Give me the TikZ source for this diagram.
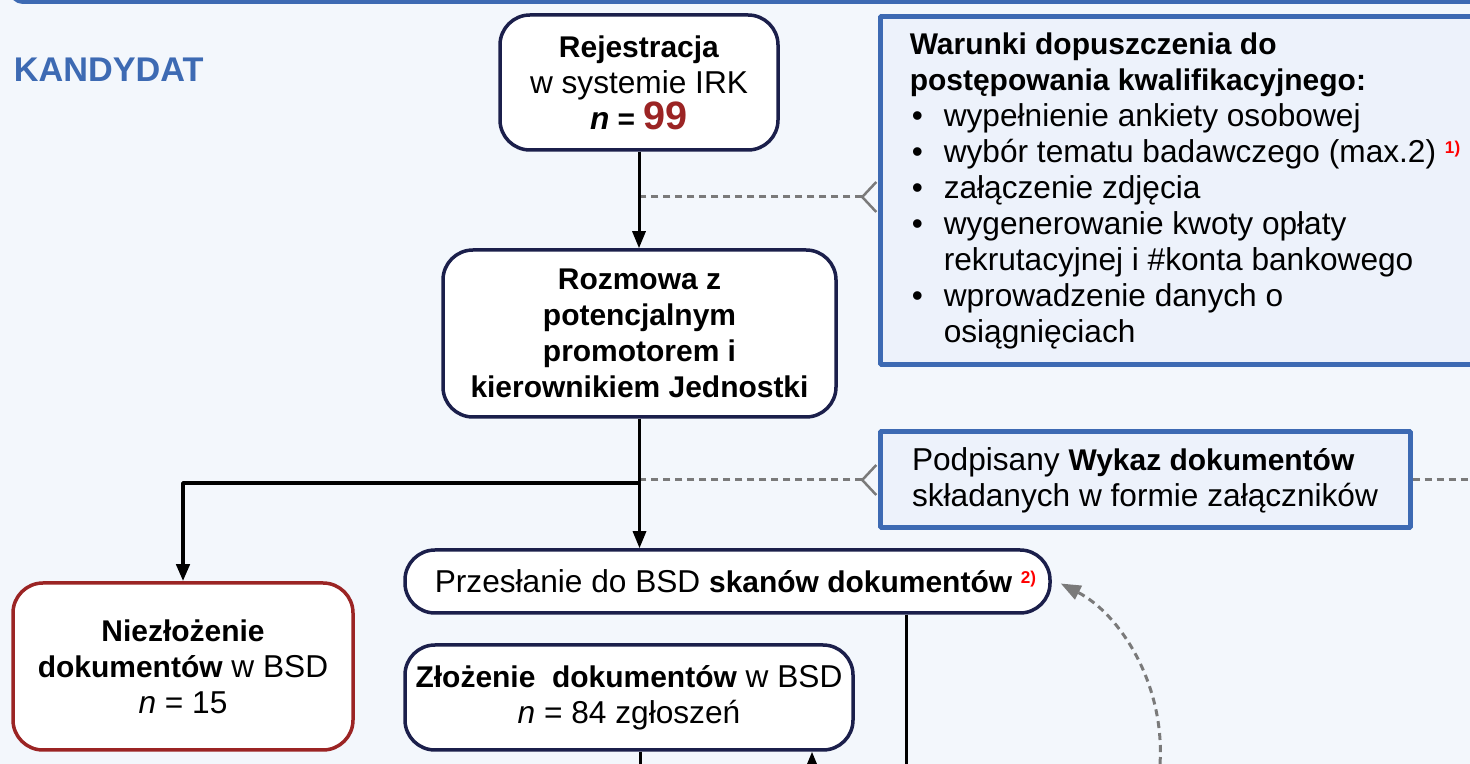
\documentclass[tikz,border=0pt]{standalone}
\usepackage{fontspec}
\setmainfont{Liberation Sans}[Scale=1.13,BoldFeatures={Scale=1.07}]
\usetikzlibrary{arrows.meta}

\begin{document}
\begin{tikzpicture}[>={Triangle[length=17bp,width=13bp]},line join=bevel,
  flowbox/.style={draw=navycol,line width=3.5bp,fill=white,rounded corners=30bp,align=center,inner sep=0bp,
    font=\fontsize{28bp}{36bp}\selectfont},
  infobox/.style={draw=infoblue,line width=5bp,fill=infofill,align=left,inner sep=0bp,
    font=\fontsize{28bp}{36bp}\selectfont},
  flow/.style={draw=black,line width=3bp},
  hint/.style={draw=hintgray,line width=3bp,dash pattern=on 7bp off 5bp},
  chev/.style={{Straight Barb[reversed,length=14bp,width=30bp,line width=2.5bp]}-},
  ]
  \definecolor{bgcol}{HTML}{F3F7FC}
  \definecolor{navycol}{HTML}{1B1F4B}
  \definecolor{infoblue}{HTML}{3D6AB3}
  \definecolor{infofill}{HTML}{EDF2FB}
  \definecolor{hintgray}{HTML}{7A7A7A}
  \definecolor{numred}{HTML}{9B2424}
  \newcommand{\bul}{\makebox[34bp][l]{\hspace{2bp}•}}
  \newcommand{\note}[1]{\raisebox{9bp}{\fontsize{16bp}{16bp}\selectfont\bfseries\color{red}#1}}
%%
  \useasboundingbox (0bp,0bp) rectangle (1470bp,764bp);
  \fill [bgcol] (0bp,0bp) rectangle (1470bp,764bp);
  \draw [infoblue,line width=4bp,rounded corners=12bp] (11bp,800bp) -- (11bp,762bp) -- (1490bp,762bp);
  % Node: kandydat
  \node (kandydat) [anchor=west,text=infoblue,font=\fontsize{32bp}{32bp}\selectfont\bfseries] at (10bp,694bp) {KANDYDAT};
  % Node: rejestracja
  \node (rejestracja) [flowbox,minimum width=278bp,minimum height=135bp] at (639bp,681.5bp)
    {\textbf{Rejestracja}\\w systemie IRK\\\textbf{\textit{n} =} {\fontsize{37bp}{36bp}\selectfont\bfseries\color{numred}99}};
  % Node: rozmowa
  \node (rozmowa) [flowbox,font=\fontsize{28bp}{36bp}\selectfont\bfseries,minimum width=393bp,minimum height=167bp] at (639.5bp,430.5bp)
    {Rozmowa z\\potencjalnym\\promotorem i\\kierownikiem Jednostki};
  % Node: warunki
  \node (warunki) [infobox,minimum width=610bp,minimum height=348bp] at (1185bp,573bp)
    {\textbf{Warunki dopuszczenia do}\\
     \textbf{postępowania kwalifikacyjnego:}\\
     \bul wypełnienie ankiety osobowej\\
     \bul wybór tematu badawczego (max.2) \note{1)}\\
     \bul załączenie zdjęcia\\
     \bul wygenerowanie kwoty opłaty\\
     \hspace*{34bp}rekrutacyjnej i \#konta bankowego\\
     \bul wprowadzenie danych o\\
     \hspace*{34bp}osiągnięciach};
  % Node: podpisany
  \node (podpisany) [infobox,minimum width=530bp,minimum height=96bp] at (1145bp,284bp)
    {Podpisany \textbf{Wykaz dokumentów}\\składanych w formie załączników};
  % Node: przeslanie
  \node (przeslanie) [flowbox,minimum width=645bp,minimum height=63bp] at (727.5bp,182.5bp)
    {\hspace*{16bp}Przesłanie do BSD \textbf{skanów dokumentów} \note{2)}};
  % Node: niezlozenie
  \node (niezlozenie) [flowbox,draw=numred,minimum width=340bp,minimum height=167bp] at (183bp,97.5bp)
    {\textbf{Niezłożenie}\\\textbf{dokumentów} w BSD\\\textit{n} = 15};
  % Node: zlozenie
  \node (zlozenie) [flowbox,minimum width=448bp,minimum height=105bp] at (629bp,66.5bp)
    {\textbf{Złożenie\ \ dokumentów} w BSD\\\textit{n} = 84 zgłoszeń};
%%
  \coordinate (tapA) at (640bp,567bp);
  \coordinate (tapB) at (640bp,284bp);
  \coordinate (split) at (640bp,281bp);
  \coordinate (edgeR) at (1470bp,284bp);
  \coordinate (outA) at (906bp,0bp);
  \coordinate (outB) at (640bp,0bp);
  \coordinate (inC) at (812bp,0bp);
  \coordinate (inD) at (1160bp,0bp);
  % Edge: warunki -> tapA
  \draw [hint,chev] (warunki.west |- tapA) -- (tapA);
  % Edge: podpisany -> tapB
  \draw [hint,chev] (podpisany.west) -- (tapB);
  % Edge: podpisany -> edgeR
  \draw [hint] (podpisany.east) -- (edgeR);
  % Edge: rejestracja -> rozmowa
  \draw [flow,->] (rejestracja.south) -- (rejestracja.south |- rozmowa.north);
  % Edge: rozmowa -> przeslanie
  \draw [flow,->] (rozmowa.south) -- (rozmowa.south |- przeslanie.north);
  % Edge: split -> niezlozenie
  \draw [flow,line width=4bp,->] (split) -| (niezlozenie.north);
  % Edge: przeslanie -> outA
  \draw [flow] (przeslanie.south -| outA) -- (outA);
  % Edge: zlozenie -> outB
  \draw [flow] (zlozenie.south -| outB) -- (outB);
  % Edge: inC -> zlozenie
  \draw [flow,->] (inC) -- (inC |- zlozenie.south);
  % Edge: inD -> przeslanie
  \draw [hint,-{Triangle[length=20bp,width=15bp]}] (inD) .. controls (1165bp,80bp) and (1120bp,150bp) .. ([xshift=9bp,yshift=-2bp]przeslanie.east);
%
\end{tikzpicture}
\end{document}
